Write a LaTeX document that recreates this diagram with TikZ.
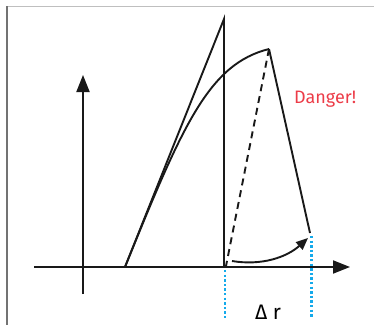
\documentclass[tikz,border=0pt]{standalone}
\usepackage{fontspec}
\setmainfont{Fira Sans}
\usetikzlibrary{arrows.meta}
\definecolor{dangerred}{RGB}{236,60,72}
\definecolor{dimblue}{RGB}{20,170,235}

\begin{document}
\begin{tikzpicture}[
  x=1pt, y=-1pt,
  frame/.style={line width=1.2pt},
  axis/.style={line width=1.9pt, draw=black!90, -{Triangle[length=17pt, width=13pt]}},
  edge/.style={line width=1.9pt, draw=black!90},
  moved/.style={edge, dash pattern=on 7pt off 5pt},
  swing/.style={edge, -{Triangle[length=12pt, width=10pt]}},
  dim/.style={draw=dimblue, line width=2.6pt, dash pattern=on 2.4pt off 2.2pt},
  lbl/.style={font=\fontsize{18}{20}\selectfont, text=dangerred, inner sep=0pt, anchor=base west}]
\useasboundingbox (0,0) rectangle (374,327);
% frame
\draw[frame, draw=black!25] (7,6.5) -- (374,6.5);
\draw[frame, draw=black!55] (7,6) -- (7,325);
% points
\coordinate (xs) at (34,267);
\coordinate (xe) at (350,267);
\coordinate (ys) at (83,294);
\coordinate (ye) at (83,75);
\coordinate (foot) at (125,267);
\coordinate (apex) at (224,19);
\coordinate (base) at (224,267);
\coordinate (tip) at (269,49);
\coordinate (end) at (310,233);
\coordinate (pivot) at (226,266);
% axes
\draw[axis] (xs) -- (xe);
\draw[axis] (ys) -- (ye);
% triangle and bent shape
\draw[edge, line join=miter] (foot) -- (apex) -- (base);
\draw[edge] (foot) .. controls (183,124) and (209,64) .. (tip);
\draw[edge] (tip) -- (end);
\draw[moved] (tip) -- (pivot);
\draw[swing] (232,261) .. controls (262,266) and (287,257) .. (308,238);
\node[lbl] (danger) at (294,103) {Danger!};
% width of the swing
\begin{scope}
  \clip (0,0) rectangle (374,318);
  \draw[dim] (225,270) -- (225,320);
  \draw[dim] (311.5,236) -- (311.5,320);
  \node[font=\fontsize{21}{24}\selectfont, inner sep=0pt, anchor=base] (dr) at (268,319.5) {Δ r};
\end{scope}
\end{tikzpicture}
\end{document}
